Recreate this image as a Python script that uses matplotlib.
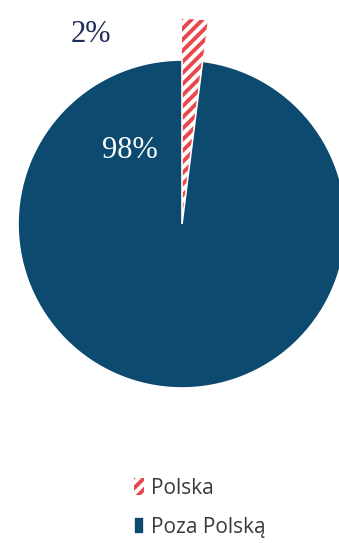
import matplotlib
matplotlib.use("Agg")
import matplotlib.pyplot as plt

categories = ["Polska", "Poza Polską"]
values = [2, 98]
labels = ["2%", "98%"]

BLUE = "#0D4A70"
RED = "#E8474C"

plt.rcParams['hatch.linewidth'] = 2.8

W, H = 339, 543
fig = plt.figure(figsize=(W / 100, H / 100), dpi=100)
ax = fig.add_axes([0, 0, 1, 1])

cx, cy, r = 182, H - 224, 164
wedges, _ = ax.pie(values, startangle=90, counterclock=False,
                   center=(cx, cy), radius=r, frame=True,
                   colors=["white", BLUE],
                   wedgeprops=dict(linewidth=1.2, edgecolor="white"))
ax.set_xlim(0, W)
ax.set_ylim(0, H)
ax.set_aspect('equal')
ax.axis('off')
wedges[0].set_hatch('///')
wedges[0].set_edgecolor(RED)
wedges[0].set_linewidth(0)
wedges[0].set_radius(r * 1.25)

ax.text(91, H - 34, labels[0], color="#1F2D5C", fontsize=22,
        family="Liberation Serif", ha="center", va="center")
ax.text(130, H - 151, labels[1], color="white", fontsize=22,
        family="Liberation Serif", ha="center", va="center")

leg = ax.legend(wedges, categories, loc="upper left", bbox_to_anchor=(134 / W, 1 - 478 / H),
                bbox_transform=fig.transFigure, frameon=False, ncol=1,
                prop=dict(family="Open Sans", size=15), labelcolor="#3A3A3A",
                handlelength=0.5, handleheight=0.85, handletextpad=0.3,
                labelspacing=0.85, borderpad=0, borderaxespad=0)

fig.savefig("out.png", dpi=100)
